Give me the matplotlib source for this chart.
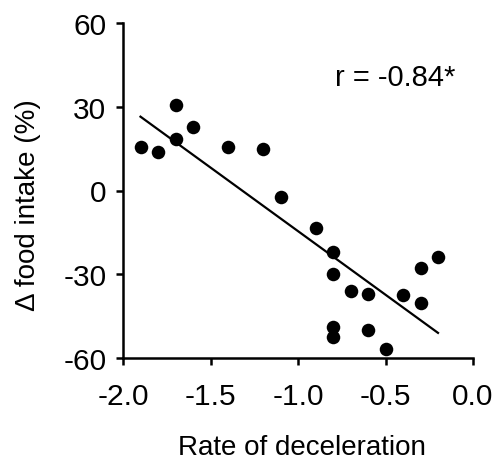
import numpy as np
import matplotlib
matplotlib.use("Agg")
import matplotlib.pyplot as plt

plt.rcParams['font.family'] = ['Liberation Sans', 'DejaVu Sans']

rate = [-1.9, -1.8, -1.7, -1.7, -1.6, -1.4, -1.2, -1.1, -0.9, -0.8, -0.8,
        -0.7, -0.6, -0.4, -0.3, -0.2, -0.3, -0.8, -0.8, -0.6, -0.5]
food = [15.5, 13.9, 30.8, 18.5, 22.7, 15.7, 14.9, -2.3, -13.4, -21.9, -29.9,
        -35.9, -37.2, -37.6, -27.9, -23.9, -40.4, -48.8, -52.6, -50.0, -56.9]
xticks = [-2.0, -1.5, -1.0, -0.5, 0.0]
yticks = [-60, -30, 0, 30, 60]
r_text = "r = -0.84*"

fig = plt.figure(figsize=(4.96, 4.64), dpi=100)
ax = fig.add_axes([123/496, 1-359/464, 350/496, 335/464])

x = np.array(rate)
y = np.array(food)
slope, intercept = np.polyfit(x, y, 1)
xs = np.array([x.min(), x.max()])
ax.plot(xs, slope*xs + intercept, color='black', lw=1.6, zorder=2)
ax.scatter(x, y, s=95, color='black', zorder=3, linewidths=0)

ax.set_xlim(-2.0, 0.0)
ax.set_ylim(-60, 60)
ax.set_xticks(xticks)
ax.set_xticklabels([f"{t:.1f}" for t in xticks])
ax.set_yticks(yticks)
ax.set_yticklabels([str(t) for t in yticks])
for s in ['top', 'right']:
    ax.spines[s].set_visible(False)
for s in ['left', 'bottom']:
    ax.spines[s].set_linewidth(1.8)
ax.tick_params(direction='out', length=5, width=1.8, labelsize=21.5, colors='black')
ax.tick_params(axis='x', pad=12)
ax.tick_params(axis='y', pad=7)

ax.set_xlabel("Rate of deceleration", fontsize=20)
ax.set_ylabel("\u0394 food intake (%)", fontsize=20)
ax.xaxis.set_label_coords(0.51, (359-455)/335, transform=ax.transAxes)
ax.xaxis.label.set_va('baseline')
ax.yaxis.set_label_coords((28-123)/350, (359-205)/335)
ax.yaxis.label.set_va('center')
ax.text(-0.79, 40.6, r_text, fontsize=21, va='center', ha='left')

fig.savefig("out.png", dpi=100)
